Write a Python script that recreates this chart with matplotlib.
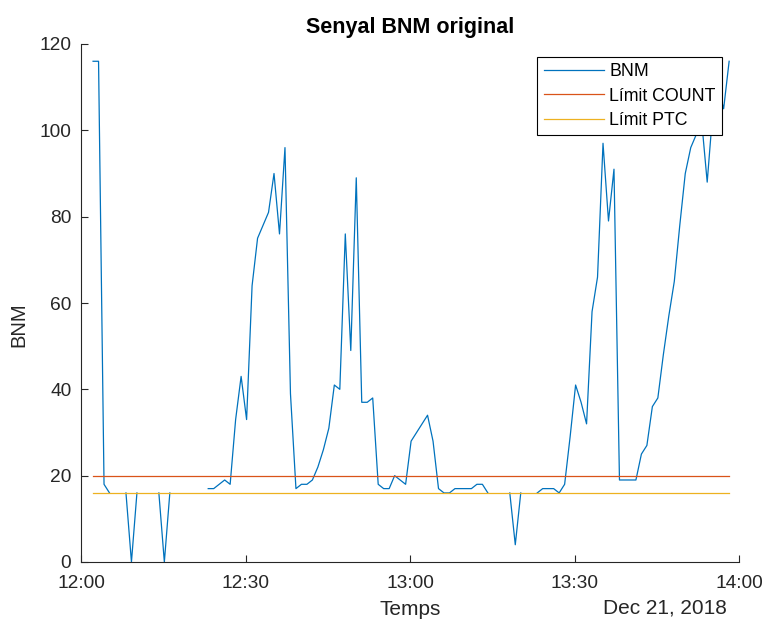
import numpy as np
import pandas as pd
import matplotlib
matplotlib.use("Agg")
import matplotlib.pyplot as plt
import matplotlib.dates as mdates

# ---------------------------------------------------------------------------
# Dades (una mostra per minut a partir de les 12:02)
# ---------------------------------------------------------------------------
inici = "2018-12-21 12:02:12"
bnm = [
    116, 116, 18, 16, np.nan, np.nan, 16, 0, 16, np.nan,
    np.nan, np.nan, 16, 0, 16, np.nan, np.nan, np.nan, np.nan, np.nan,
    np.nan, 17, 17, 18, 19, 18, 33, 43, 33, 64,
    75, 78, 81, 90, 76, 96, 39, 17, 18, 18,
    19, 22, 26, 31, 41, 40, 76, 49, 89, 37,
    37, 38, 18, 17, 17, 20, 19, 18, 28, 30,
    32, 34, 28, 17, 16, 16, 17, 17, 17, 17,
    18, 18, 16, np.nan, np.nan, np.nan, 16, 4, 16, np.nan,
    np.nan, 16, 17, 17, 17, 16, 18, 29, 41, 37,
    32, 58, 66, 97, 79, 91, 19, 19, 19, 19,
    25, 27, 36, 38, 48, 57, 65, 78, 90, 96,
    99, 102, 88, 104, 110, 105, 116,
]
limit_count = 20
limit_ptc = 16

etiquetes = ["BNM", "Límit COUNT", "Límit PTC"]
colors = ["#0072BD", "#D95319", "#EDB120"]

temps = pd.date_range(inici, periods=len(bnm), freq="1min")

plt.rcParams["font.family"] = ["Liberation Sans", "DejaVu Sans"]
gris = "#262626"

fig = plt.figure(figsize=(7.66, 6.22), dpi=100)
ax = fig.add_axes([81 / 766, 1 - 562 / 622, (739 - 81) / 766, (562 - 44) / 622])

ax.plot(temps, bnm, color=colors[0], lw=0.9, label=etiquetes[0], zorder=2)
ax.plot(temps, np.full(len(temps), limit_count), color=colors[1], lw=0.9,
        label=etiquetes[1], zorder=3)
ax.plot(temps, np.full(len(temps), limit_ptc), color=colors[2], lw=0.9,
        label=etiquetes[2], zorder=4)

ax.set_xlim(pd.Timestamp("2018-12-21 12:00"), pd.Timestamp("2018-12-21 14:00"))
ax.set_ylim(0, 120)
ax.set_yticks(np.arange(0, 121, 20))
ax.xaxis.set_major_locator(mdates.MinuteLocator(byminute=[0, 30]))
ax.xaxis.set_major_formatter(mdates.DateFormatter("%H:%M"))

for lado in ["top", "right"]:
    ax.spines[lado].set_visible(False)
for lado in ["left", "bottom"]:
    ax.spines[lado].set_color(gris)
    ax.spines[lado].set_linewidth(0.8)
ax.tick_params(direction="in", length=5, width=0.8, colors=gris,
               labelsize=13.8)
ax.tick_params(axis="x", pad=9)
ax.tick_params(axis="y", pad=7)

ax.set_title("Senyal BNM original", fontsize=15.5, fontweight="bold",
             color="black", pad=8)
ax.set_xlabel("Temps", fontsize=15, color=gris, labelpad=6)
ax.set_ylabel("BNM", fontsize=14.5, color=gris)
ax.yaxis.set_label_coords(-0.08, (562 - 325) / 518)
ax.text((727 - 81) / 658, (562 - 608) / 518, "Dec 21, 2018",
        transform=ax.transAxes, ha="right", va="center", fontsize=15,
        color=gris)

ley = ax.legend(loc="upper right", bbox_to_anchor=(722 / 766, 1 - 57 / 622),
                bbox_transform=fig.transFigure, borderaxespad=0,
                fontsize=12.8, frameon=True, fancybox=False, framealpha=1,
                edgecolor="black", handlelength=3.4, handletextpad=0.3,
                labelspacing=0.42, borderpad=0.35)
ley.get_frame().set_linewidth(0.8)

fig.savefig("out.png", dpi=100)
